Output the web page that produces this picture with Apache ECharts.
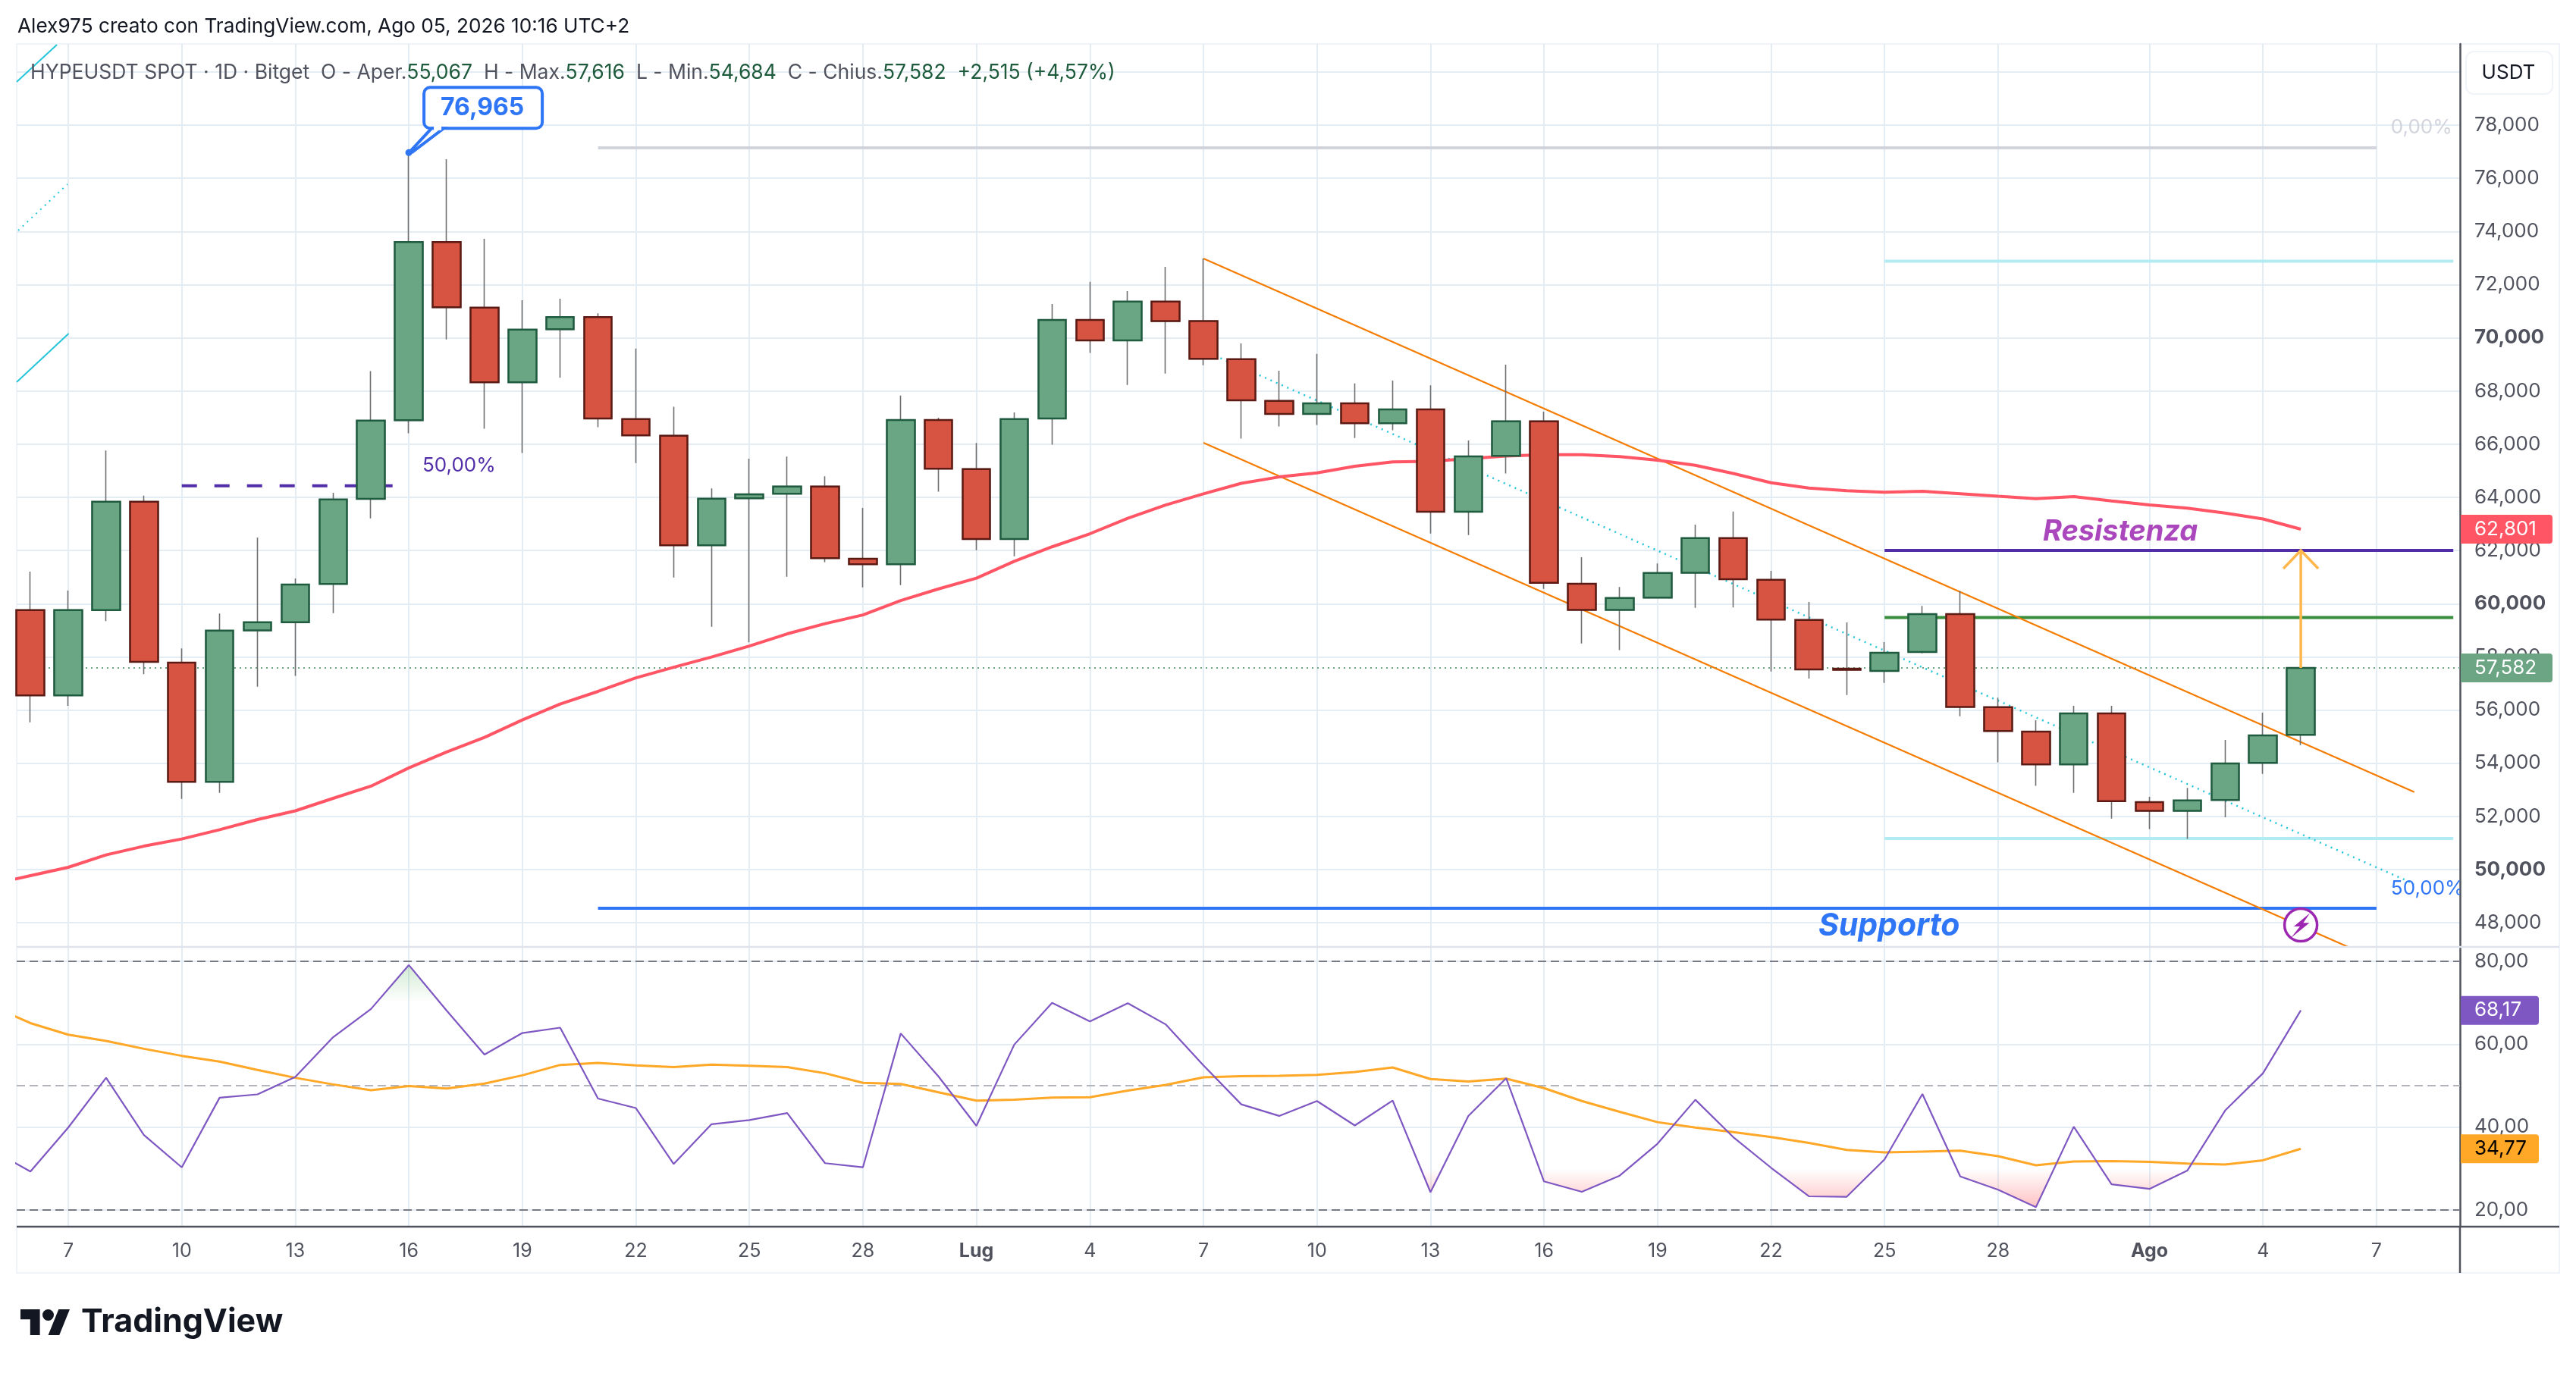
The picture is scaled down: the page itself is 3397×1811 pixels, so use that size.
<!DOCTYPE html>
<html><head><meta charset="utf-8">
<style>html,body{margin:0;padding:0;background:#fff}#c{width:3397px;height:1811px}</style>
<script src="https://cdn.jsdelivr.net/npm/echarts@6/dist/echarts.min.js"></script>
</head><body><div id="c"></div>
<script>
// ---- data (day index 0 = 6 June) ----
const opens=[59761,56553,59761,63832,57786,53301,58998,59303,60743,63941,66898,73599,71137,68328,70320,70776,66941,66319,62194,63962,64136,64409,61692,61484,66908,65064,62434,66963,70673,69899,71361,70626,69197,67625,67134,67538,66785,67309,63456,65562,66861,60750,59768,60226,61164,62468,60896,59390,57557,57469,58179,59608,56105,55188,53955,55876,52537,52209,52613,54010,55067];
const closes=[56553,59761,63832,57808,53301,58986,59303,60722,63919,66887,73600,71147,68328,70310,70776,66964,66330,62194,63951,64115,64409,61714,61484,66908,65075,62434,66941,70673,69899,71361,70626,69207,67647,67134,67538,66785,67309,63456,65541,66861,60783,59768,60215,61153,62463,60918,59401,57524,57513,58157,59608,56116,55210,53955,55876,52569,52209,52602,53988,55047,57582];
const highs=[61202,60492,65763,64061,58321,59630,62490,60951,64170,68750,76965,76717,73723,71413,71470,70919,69593,67410,64333,65457,65533,64791,63602,67825,66996,66046,67192,71274,72103,71754,72670,72983,69786,68760,69393,68280,68389,68214,66141,68989,67221,61743,60630,61514,62976,63461,61234,60067,59292,58550,59914,60481,56466,55614,56160,56160,52733,53071,54872,55898,57616];
const lows=[55538,56160,59347,57350,52657,52886,56880,57284,59641,63210,66407,69940,66582,65665,68500,66636,65293,60983,59127,58549,61015,61561,60611,60699,64213,62008,61779,65981,69429,68229,68654,68967,66206,66665,66719,66228,66523,62638,62583,64897,60553,58502,58251,60226,59844,59859,57448,57186,56564,57022,58135,55767,54032,53148,52886,51915,51522,51151,51969,53595,54684];
// overlays start one day earlier (index -1)
const ma=[49450,49770,50084,50550,50880,51150,51500,51880,52209,52679,53137,53824,54424,54970,55625,56225,56700,57207,57610,57992,58407,58865,59247,59575,60120,60557,60961,61594,62139,62630,63209,63711,64130,64526,64766,64919,65170,65333,65355,65453,65552,65606,65606,65530,65399,65202,64897,64550,64350,64250,64190,64230,64137,64039,63952,64028,63864,63712,63592,63406,63188,62801];
const rsi=[34.4,29.3,39.9,51.9,38.1,30.3,47.1,47.9,52.1,61.7,68.5,79.1,68.1,57.5,62.7,64,46.9,44.6,31.1,40.7,41.7,43.4,31.3,30.3,62.6,52.2,40.3,59.9,70,65.5,69.9,64.8,54.9,45.5,42.7,46.3,40.4,46.4,24.3,42.7,51.8,26.9,24.4,28.3,36,46.6,37.6,30.2,23.3,23.2,32.2,48,28.1,24.9,20.7,40.1,26.2,25.1,29.5,44,53,68.17];
const rsiMa=[69.1,65.1,62.3,60.8,58.9,57.2,55.8,53.8,51.9,50.3,48.9,49.9,49.3,50.5,52.5,55,55.5,54.9,54.5,55.1,54.8,54.5,53,50.7,50.4,48.4,46.4,46.6,47.1,47.2,48.8,50.2,52,52.3,52.4,52.6,53.3,54.4,51.6,51,51.7,49.4,46.3,43.7,41.2,39.9,38.8,37.6,36.2,34.5,33.9,34.1,34.3,33,30.8,31.7,31.8,31.6,31.2,31,32,34.77];
const tickDays=[1,4,7,10,13,16,19,22,25,28,31,34,37,40,43,46,49,52,56,59,62];
const tickNames=['7','10','13','16','19','22','25','28','Lug','4','7','10','13','16','19','22','25','28','Ago','4','7'];
const priceGrid=[48000,50000,52000,54000,56000,58000,60000,62000,64000,66000,68000,70000,72000,74000,76000,78000,80000];
const priceLabels=[48000,50000,52000,54000,56000,58000,60000,62000,64000,66000,68000,70000,72000,74000,76000,78000];
const rsiTicks=[20,40,60,80];
const rsiLevels=[80,50,20];
const channelUpper=[[31,72983],[63,52916]];
const channelLower=[[31,66053],[61.25,47090]];
const channelMid=[[31.45,69236],[63,49456]];
const stubA=[[-0.363,79625],[0.7,81022]];
const stubB=[[-0.323,74036],[0.98,75776]];
const stubC=[[-0.363,68334],[1.01,70158]];
const fibZero=[[15,77145],[62,77145]];
const fibHalf=[[4,64433],[9.7,64433]];
const tealTop=[[49,72885],[64.03,72885]];
const tealBottom=[[49,51168],[64.03,51168]];
const resistance=[[49,62005],[64.03,62005]];
const greenLevel=[[49,59477],[64.03,59477]];
const support=[[15,48545],[62,48545]];
const highPoint=[10,76965];
const lastDay=60, lastClose=57582, lastMa=62801, lastRsi=68.17, lastRsiMa=34.77;

// ---- scales ----
const X_MIN=-0.3627,X_MAX=64.2064,Y_MIN=47090,Y_MAX=81051,R_MIN=15.98,R_MAX=83.475;
const FONT='Inter, "Noto Sans", sans-serif';
const GRID='#e4edf4',AXIS='#50535e',TXT='#50535e',VAL='#1e5a3c';
const days=a=>a.map((v,i)=>[i-1,v]);
const seg=(data,color,width,type,z,name)=>({type:'line',name,data,xAxisIndex:0,yAxisIndex:0,symbol:'none',silent:true,z:z||2,
  lineStyle:{color,width,type:type||'solid',cap:'butt'}});
const num=v=>Number(v).toLocaleString('en-US');

function xAxis(idx,showLabel){return {type:'value',gridIndex:idx,min:X_MIN,max:X_MAX,
  axisLine:{show:false,onZero:false},axisTick:{show:false,customValues:tickDays},
  axisLabel:{show:showLabel,customValues:tickDays,margin:20,color:TXT,fontFamily:FONT,fontSize:25,
    formatter:v=>{const n=tickNames[tickDays.indexOf(v)];return (n==='Lug'||n==='Ago')?'{b|'+n+'}':n;},
    rich:{b:{fontWeight:700,color:TXT,fontFamily:FONT,fontSize:25}}},
  splitLine:{show:true,lineStyle:{color:GRID,width:2}}};}
function yAxis(idx,min,max,grid,labels,fmt){return {type:'value',gridIndex:idx,position:'right',min,max,scale:true,
  axisLine:{show:true,onZero:false,lineStyle:{color:AXIS,width:2.5}},axisTick:{show:false,customValues:grid},
  axisLabel:{customValues:labels,margin:19,color:TXT,fontFamily:FONT,fontSize:26,formatter:fmt,
    rich:{b:{fontWeight:700,color:TXT,fontFamily:FONT,fontSize:26}}},
  splitLine:{show:true,lineStyle:{color:GRID,width:2}}};}

function tag(ax,value,text,bg,fg,w){return {type:'custom',xAxisIndex:ax,yAxisIndex:ax,z:30,silent:true,clip:false,encode:{x:0,y:1},
  data:[[X_MAX,value]],renderItem:(p,api)=>{const c=api.coord([api.value(0),api.value(1)]);return {type:'group',children:[
    {type:'rect',shape:{x:c[0]+1,y:c[1]-19,width:w,height:38,r:[0,4,4,0]},style:{fill:bg}},
    {type:'text',style:{text,x:c[0]+19,y:c[1],verticalAlign:'middle',align:'left',fill:fg,font:'26px '+FONT}}]};}};}
function note(d,v,text,color,font,align){return {type:'custom',xAxisIndex:0,yAxisIndex:0,z:8,silent:true,clip:true,encode:{x:0,y:1},
  data:[[d,v]],renderItem:(p,api)=>{const c=api.coord([api.value(0),api.value(1)]);return {type:'text',
    style:{text,x:c[0],y:c[1],align:align||'left',verticalAlign:'middle',fill:color,font}};}};}
// RSI zones beyond 30 / 70, filled between the line and the threshold
function zone(thr,sign,colorIn,colorOut,far){return {type:'custom',xAxisIndex:1,yAxisIndex:1,z:2,silent:true,clip:true,encode:{x:0,y:1},
  data:days(rsi),renderItem:(p,api)=>{
    const i=p.dataIndex; if(i>=rsi.length-1) return null;
    const a=rsi[i],b=rsi[i+1],d=i-1,pts=[];
    const ina=sign*(a-thr)>0,inb=sign*(b-thr)>0;
    if(!ina&&!inb) return null;
    const cross=ina!==inb?d+(thr-a)/(b-a):null;
    if(ina){pts.push([d,thr],[d,a]);} else pts.push([cross,thr]);
    if(inb){pts.push([d+1,b],[d+1,thr]);} else pts.push([cross,thr]);
    const y0=api.coord([0,thr])[1],y1=api.coord([0,far])[1];
    return {type:'polygon',shape:{points:pts.map(q=>api.coord(q))},
      style:{fill:new echarts.graphic.LinearGradient(0,y0,0,y1,[{offset:0,color:colorOut},{offset:1,color:colorIn}],true)}};
  }};}

const series=[
  seg([[X_MIN,lastClose],[X_MAX,lastClose]],'#6ba583',2,[2,5],2,'last'),
  seg(stubA,'#26c6da',2),seg(stubB,'#26c6da',2,[2,6]),seg(stubC,'#26c6da',2),
  seg(fibZero,'#d1d4dc',4),
  seg(fibHalf,'#512da8',4,[20,23]),
  seg(tealTop,'#b2ebf2',4),seg(tealBottom,'#b2ebf2',4),
  seg(resistance,'#512da8',4),seg(greenLevel,'#388e3c',4),seg(support,'#2f76f6',4),
  seg(channelMid,'#26c6da',2.5,[2,6]),
  seg(channelUpper,'#f57c00',2.2),seg(channelLower,'#f57c00',2.2),
  seg(days(ma),'#ff5565',4,'solid',3,'MA'),
  {type:'candlestick',xAxisIndex:0,yAxisIndex:0,z:4,barWidth:37,silent:true,
    itemStyle:{color:'#6f6f6f',color0:'#6f6f6f',borderColor:'#6f6f6f',borderColor0:'#6f6f6f',borderWidth:1.6},
    data:opens.map((o,i)=>[i,o,closes[i],lows[i],highs[i]])},
  {type:'candlestick',xAxisIndex:0,yAxisIndex:0,z:5,barWidth:37,silent:true,
    itemStyle:{color:'#6aa584',color0:'#d75442',borderColor:'#1f5b3f',borderColor0:'#5b1a13',borderWidth:2.5},
    data:opens.map((o,i)=>[i,o,closes[i],Math.min(o,closes[i]),Math.max(o,closes[i])])},
  note(55.23,62700,'Resistenza','#ab47bc','italic 700 38px '+FONT,'center'),
  note(49.12,47880,'Supporto','#2f76f6','italic 700 41px '+FONT,'center'),
  note(62.38,49285,'50,00%','#2f76f6','26px '+FONT),
  note(62.38,77914,'0,00%','#d1d4dc','26px '+FONT),
  note(10.36,65197,'50,00%','#512da8','26px '+FONT),
  // high callout
  {type:'custom',xAxisIndex:0,yAxisIndex:0,z:9,silent:true,clip:false,encode:{x:0,y:1},data:[highPoint],
   renderItem:(p,api)=>{const c=api.coord([api.value(0),api.value(1)]),x=c[0],y=c[1],B='#2f76f6';return {type:'group',children:[
     {type:'circle',shape:{cx:x,cy:y,r:4.5},style:{fill:B}},
     {type:'rect',shape:{x:x+20,y:y-86,width:156,height:54,r:8},style:{fill:'#fff',stroke:B,lineWidth:4}},
     {type:'polygon',shape:{points:[[x+3,y-3],[x+30,y-32],[x+46,y-32],[x+5,y-1]]},style:{fill:'#fff',stroke:B,lineWidth:4}},
     {type:'line',shape:{x1:x+33,y1:y-32,x2:x+43,y2:y-32},style:{stroke:'#fff',lineWidth:5}},
     {type:'text',style:{text:num(api.value(1)),x:x+97,y:y-59,align:'center',verticalAlign:'middle',fill:B,font:'700 32px '+FONT}}]};}},
  // arrow to resistance
  {type:'custom',xAxisIndex:0,yAxisIndex:0,z:9,silent:true,clip:false,encode:{x:0,y:1},data:[[lastDay,lastClose,resistance[0][1]]],
   renderItem:(p,api)=>{const a=api.coord([api.value(0),api.value(1)]),b=api.coord([api.value(0),api.value(2)]),S={stroke:'#ffb74d',lineWidth:3.5,fill:null};return {type:'group',children:[
     {type:'line',shape:{x1:a[0],y1:a[1],x2:b[0],y2:b[1]},style:S},
     {type:'polyline',shape:{points:[[b[0]-23,b[1]+24],[b[0],b[1]],[b[0]+23,b[1]+24]]},style:S}]};}},
  // alert icon
  {type:'custom',xAxisIndex:0,yAxisIndex:0,z:9,silent:true,clip:false,encode:{x:0,y:1},data:[[lastDay,47917]],
   renderItem:(p,api)=>{const c=api.coord([api.value(0),api.value(1)]),P='#9c27b0';return {type:'group',children:[
     {type:'circle',shape:{cx:c[0],cy:c[1],r:21.5},style:{fill:'#fff',stroke:P,lineWidth:3.5}},
     {type:'polygon',shape:{points:[[8.4,-11.6],[-7.1,1.2],[.4,1.2],[-8.4,12.4],[9.3,-2],[1.8,-2]].map(q=>[c[0]+q[0],c[1]+q[1]])},style:{fill:P,stroke:P,lineWidth:1.5}}]};}},
  tag(0,lastMa,num(lastMa),'#ff5565','#fff',121),
  tag(0,lastClose,num(lastClose),'#6ba583','#fff',121),
  // RSI pane
  zone(30,-1,'rgba(255,82,82,0.38)','rgba(255,82,82,0)',20),
  zone(70,1,'rgba(76,175,80,0.28)','rgba(76,175,80,0)',80),
  ...rsiLevels.map(l=>({type:'line',xAxisIndex:1,yAxisIndex:1,symbol:'none',silent:true,z:2,
    data:[[X_MIN,l],[X_MAX,l]],lineStyle:{color:l===50?'#b2b5be':'#787b86',width:2,type:[11,6]}})),
  {type:'line',xAxisIndex:1,yAxisIndex:1,symbol:'none',silent:true,z:3,data:days(rsiMa),lineStyle:{color:'#ffa726',width:3}},
  {type:'line',xAxisIndex:1,yAxisIndex:1,symbol:'none',silent:true,z:4,data:days(rsi),lineStyle:{color:'#7e57c2',width:2.2}},
  tag(1,lastRsi,'68,17','#7e57c2','#fff',103),
  tag(1,lastRsiMa,'34,77','#ffa726','#000',103)
];

const legendRich={g:{fill:TXT,font:'26.5px '+FONT},v:{fill:VAL,font:'26.5px '+FONT}};
const logoPt=q=>[27+q[0]*1.83,1727+(q[1]-4)*1.889];
const chart=echarts.init(document.getElementById('c'),null,{renderer:'canvas',width:3397,height:1811});
chart.setOption({animation:false,backgroundColor:'#fff',
  grid:[{left:22,top:58,width:3222,height:1191},{left:22,top:1249,width:3222,height:369}],
  xAxis:[xAxis(0,false),xAxis(1,true)],
  yAxis:[
    yAxis(0,Y_MIN,Y_MAX,priceGrid,priceLabels,v=>v%10000===0?'{b|'+num(v)+'}':num(v)),
    yAxis(1,R_MIN,R_MAX,rsiTicks,rsiTicks,v=>v+',00')],
  series,
  graphic:[
    {type:'rect',z:-1,shape:{x:22,y:58,width:3353,height:1621},style:{fill:null,stroke:'#f0f3fa',lineWidth:2}},
    {type:'line',z:50,shape:{x1:22,y1:1249,x2:3375,y2:1249},style:{stroke:'#e0e3eb',lineWidth:2.5}},
    {type:'line',z:50,shape:{x1:22,y1:1618,x2:3375,y2:1618},style:{stroke:AXIS,lineWidth:2.5}},
    {type:'line',z:50,shape:{x1:3244,y1:1618,x2:3244,y2:1679},style:{stroke:AXIS,lineWidth:2.5}},
    {type:'text',z:60,x:23,y:22,style:{text:'Alex975 creato con TradingView.com, Ago 05, 2026 10:16 UTC+2',fill:'#131722',font:'26.2px '+FONT}},
    {type:'text',z:60,x:40,y:83,style:{
      text:'{g|HYPEUSDT SPOT · 1D · Bitget  O - Aper.}{v|55,067}{g|  H - Max.}{v|57,616}{g|  L - Min.}{v|54,684}{g|  C - Chius.}{v|57,582}{v|  +2,515 (+4,57%)}',
      rich:legendRich}},
    {type:'rect',z:60,shape:{x:3252,y:68,width:114,height:56,r:10},style:{fill:'#fff',stroke:'#f0f3fa',lineWidth:2}},
    {type:'text',z:61,x:3308,y:96,style:{text:'USDT',align:'center',verticalAlign:'middle',fill:'#131722',font:'26px '+FONT}},
    {type:'polygon',z:60,shape:{points:[[14,22],[7,22],[7,11],[0,11],[0,4],[14,4]].map(logoPt)},style:{fill:'#131722'}},
    {type:'polygon',z:60,shape:{points:[[28,22],[20,22],[27.5,4],[35.5,4]].map(logoPt)},style:{fill:'#131722'}},
    {type:'circle',z:60,shape:{cx:63.5,cy:1734.5,r:7.5},style:{fill:'#131722'}},
    {type:'text',z:60,x:107,y:1723,style:{text:'TradingView',fill:'#131722',font:'700 43px '+FONT}}
  ]
});
</script></body></html>
